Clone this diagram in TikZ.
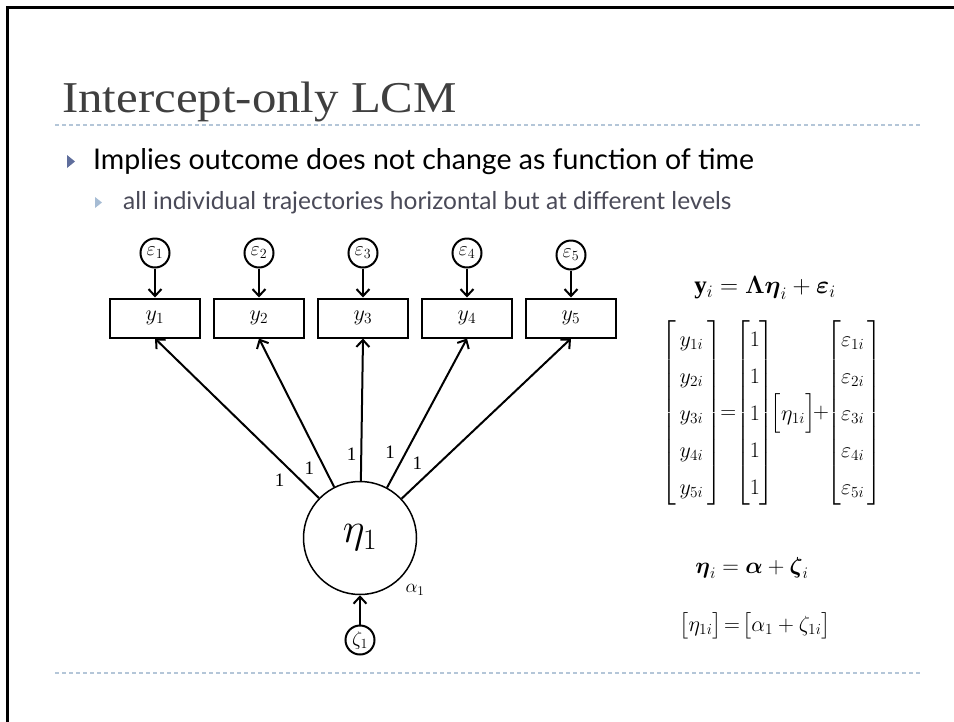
\RequirePackage{fix-cm}
\documentclass[tikz,border=0pt]{standalone}
\usepackage{amsmath,amssymb}
\usepackage{fontspec}
\setmainfont{Liberation Serif}
\newfontfamily\slidefont{Lato}
\newfontfamily\headfont[FakeStretch=1.11]{Liberation Serif}
\usepackage{xcolor}
\definecolor{titlegray}{HTML}{3F3F3F}
\definecolor{subgray}{HTML}{4A4A58}
\definecolor{bulletblue}{HTML}{5F6E9C}
\definecolor{subblue}{HTML}{A6BCD4}
\definecolor{rulegray}{HTML}{B4C6D8}
\usetikzlibrary{positioning,arrows.meta}
\tikzset{
  frame/.style    ={line width=3pt, black},
  rulesep/.style  ={line width=1.2pt, rulegray, dash pattern=on 4pt off 3pt},
  titletext/.style={anchor=base west, inner sep=0pt, text=titlegray,
                    font=\headfont\fontsize{44}{44}\selectfont},
  bodytext/.style ={anchor=base west, inner sep=0pt, text=black,
                    font=\slidefont\fontsize{28.5}{29}\selectfont},
  subtext/.style  ={anchor=base west, inner sep=0pt, text=subgray,
                    font=\slidefont\fontsize{24.5}{25}\selectfont},
  obs/.style      ={rectangle, draw, line width=2pt, minimum width=90pt,
                    minimum height=39pt, inner sep=0pt, font=\fontsize{22}{22}\selectfont},
  err/.style      ={circle, draw, line width=2pt, minimum size=29pt,
                    inner sep=0pt, font=\fontsize{20}{20}\selectfont},
  lat/.style      ={circle, draw, line width=1.5pt, minimum size=113pt,
                    inner sep=0pt, font=\fontsize{42}{42}\selectfont},
  arr/.style      ={-{Straight Barb[length=7pt, width=13pt]}, line width=2pt},
  lbl/.style      ={font=\fontsize{19}{19}\selectfont, inner sep=4pt},
  eqn/.style      ={inner sep=0pt, font=\fontsize{25}{25}\selectfont},
  eqm/.style      ={inner sep=0pt, font=\fontsize{22}{26}\selectfont},
}

\begin{document}
\begin{tikzpicture}[x=1pt, y=-1pt]
  \useasboundingbox (0,0) rectangle (954,721);
  % slide frame and rules
  \draw[frame] (7,730) -- (7,7) -- (960,7);
  \draw[rulesep] (55,125) -- (920,125);
  \draw[rulesep] (55,673) -- (920,673);

  % title and bullets
  \node[titletext] (title) at (62,112) {Intercept-only LCM};
  \fill[bulletblue] (67,155) -- (75,161.5) -- (67,168) -- cycle;
  \node[bodytext] (pt1) at (93,169) {Implies outcome does not change as function of time};
  \fill[subblue] (95,197) -- (102,202.5) -- (95,208) -- cycle;
  \node[subtext] (pt2) at (123,209) {all individual trajectories horizontal but at different levels};

  % indicators
  \node[obs] (y1) at (155,318) {$y_1$};
  \node[obs, right=12pt of y1] (y2) {$y_2$};
  \node[obs, right=12pt of y2] (y3) {$y_3$};
  \node[obs, right=12pt of y3] (y4) {$y_4$};
  \node[obs, right=12pt of y4] (y5) {$y_5$};
  \node[err, above=29pt of y1] (e1) {$\varepsilon_1$};
  \node[err, above=29pt of y2] (e2) {$\varepsilon_2$};
  \node[err, above=29pt of y3] (e3) {$\varepsilon_3$};
  \node[err, above=29pt of y4] (e4) {$\varepsilon_4$};
  \node[err, above=27pt of y5] (e5) {$\varepsilon_5$};

  % intercept factor
  \node[lat] (eta) at (360,538) {$\eta_1$};
  \node[err] (zeta) at (360,640) {$\zeta_1$};
  \node[lbl] (alpha) at (415,590) {$\alpha_1$};

  \draw[arr] (e1) -- (y1);
  \draw[arr] (e2) -- (y2);
  \draw[arr] (e3) -- (y3);
  \draw[arr] (e4) -- (y4);
  \draw[arr] (e5) -- (y5);
  \draw[arr] (eta) -- (y1.south) node[lbl, pos=.18, auto] {1};
  \draw[arr] (eta) -- (y2.south) node[lbl, pos=.2, auto] {1};
  \draw[arr] (eta) -- (y3.south) node[lbl, pos=.19, auto] {1};
  \draw[arr] (eta) -- (y4.south) node[lbl, pos=.16, auto] {1};
  \draw[arr] (eta) -- (y5.south) node[lbl, pos=.15, auto] {1};
  \draw[arr] (zeta) -- (eta);

  % model equations
  \node[eqn] (eqy) at (765,288)
    {$\mathbf{y}_i = \boldsymbol{\Lambda}\boldsymbol{\eta}_i + \boldsymbol{\varepsilon}_i$};
  \node[eqm] (eqym) at (772,413) {\renewcommand{\arraystretch}{1.42}%
    $\begin{bmatrix} \,y_{1i}\, \\ \,y_{2i}\, \\ \,y_{3i}\, \\ \,y_{4i}\, \\ \,y_{5i}\, \end{bmatrix}
     \!\!=\!\! \begin{bmatrix} 1 \\ 1 \\ 1 \\ 1 \\ 1 \end{bmatrix}
     \!\!\begin{bmatrix} \eta_{1i} \end{bmatrix} \!\!+\!\!
     \begin{bmatrix} \varepsilon_{1i}\, \\ \varepsilon_{2i}\, \\ \varepsilon_{3i}\, \\ \varepsilon_{4i}\, \\ \varepsilon_{5i}\, \end{bmatrix}$};
  \node[eqn, font=\fontsize{23}{23}\selectfont] (eqeta) at (752,568)
    {$\boldsymbol{\eta}_i = \boldsymbol{\alpha} + \boldsymbol{\zeta}_i$};
  \node[eqm] (eqetam) at (755,626)
    {$\bigl[\eta_{1i}\bigr] \!=\! \bigl[\alpha_1 + \zeta_{1i}\bigr]$};
\end{tikzpicture}
\end{document}
